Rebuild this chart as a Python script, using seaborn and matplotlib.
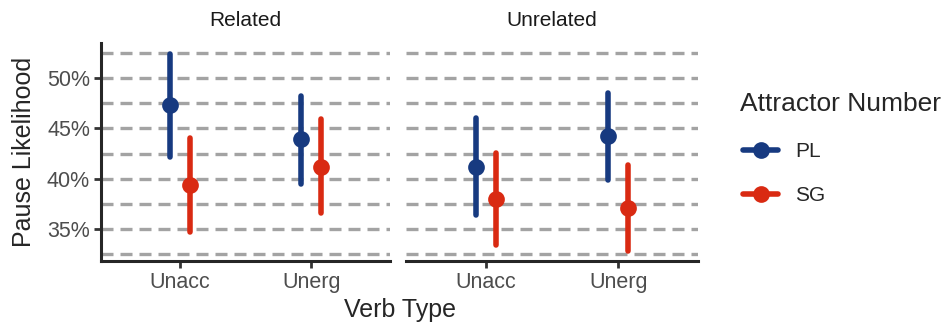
import numpy as np
import pandas as pd
import matplotlib
matplotlib.use("Agg")
import matplotlib.pyplot as plt
import seaborn as sns
from matplotlib.ticker import FuncFormatter, MultipleLocator

# estimated values (percent)
panels = ["Related", "Unrelated"]
verb_types = ["Unacc", "Unerg"]
attractor = ["PL", "SG"]

# order: Related Unacc PL, Related Unacc SG, Related Unerg PL, Related Unerg SG, then Unrelated ...
est = [47.3, 39.4, 43.9, 41.2, 41.2, 38.0, 44.2, 37.1]
lower = [42.2, 34.7, 39.5, 36.6, 36.4, 33.4, 39.9, 32.8]
upper = [52.4, 44.0, 48.2, 45.9, 46.0, 42.6, 48.5, 41.4]

palette = {"PL": "#173A80", "SG": "#D92A12"}

rows = []
i = 0
for p in panels:
    for v in verb_types:
        for a in attractor:
            for val in (lower[i], est[i], upper[i]):
                rows.append({"panel": p, "verb": v, "num": a, "pause": val})
            i += 1
df = pd.DataFrame(rows)

sns.set_style("white")
plt.rcParams["font.family"] = ["Liberation Sans", "DejaVu Sans"]

fig = plt.figure(figsize=(9.48, 3.24), dpi=100)
W, H = 948, 324
boxes = [(101, 390), (406, 698)]
top, bottom = 43, 261
axes = []
for (x0, x1) in boxes:
    ax = fig.add_axes([x0 / W, (H - bottom) / H, (x1 - x0) / W, (bottom - top) / H])
    axes.append(ax)

for ax, p in zip(axes, panels):
    sub = df[df.panel == p]
    for y in np.arange(32.5, 53.0, 2.5):
        ax.axhline(y, color="#a3a3a3", lw=2.4, ls=(0, (3.6, 2.1)), zorder=0)
    sns.pointplot(data=sub, x="verb", y="pause", hue="num", order=verb_types,
                  hue_order=attractor, palette=palette, estimator="median",
                  errorbar=lambda v: (v.min(), v.max()), dodge=0.15,
                  linestyle="none", markersize=10, err_kws={"linewidth": 4},
                  ax=ax)
    ax.set_xlim(-0.6, 1.6)
    ax.set_ylim(31.85, 53.45)
    ax.set_xlabel("")
    ax.set_ylabel("")
    ax.set_title(p, fontsize=15, color="#1a1a1a", pad=12)
    for s in ["top", "right"]:
        ax.spines[s].set_visible(False)
    ax.spines["bottom"].set_linewidth(2.2)
    ax.spines["left"].set_linewidth(2.2)
    ax.tick_params(axis="x", length=5, width=2, color="#333333", labelsize=15.5,
                   labelcolor="#4d4d4d", pad=3, bottom=True)
    ax.tick_params(axis="y", length=5, width=2, color="#333333", labelsize=15.5,
                   labelcolor="#4d4d4d", pad=3, left=True)
    ax.yaxis.set_major_locator(MultipleLocator(5))
    ax.yaxis.set_major_formatter(FuncFormatter(lambda v, _: f"{v:.0f}%"))
    ax.get_legend().remove()

axes[1].spines["left"].set_visible(False)
axes[1].tick_params(axis="y", left=False, labelleft=False)

fig.text(24 / W, 1 - 152 / H, "Pause Likelihood", fontsize=18, rotation=90,
         ha="center", va="center")
fig.text((101 + 698) / 2 / W, 1 - 310 / H, "Verb Type", fontsize=18,
         ha="center", va="center")

# legend: title as separate text, entries below
fig.text(740 / W, 1 - 104 / H, "Attractor Number", fontsize=19, ha="left", va="center")
handles, labels = axes[0].get_legend_handles_labels()
for h in handles:
    h.set_linestyle("-")
    h.set_linewidth(4)
leg = fig.legend(handles, labels, loc="upper left",
                 bbox_to_anchor=(743 / W, 1 - 142 / H), frameon=False, fontsize=15,
                 handlelength=1.7, labelspacing=1.2,
                 handletextpad=0.8, borderaxespad=0, borderpad=0)

fig.savefig("out.png", dpi=100)
